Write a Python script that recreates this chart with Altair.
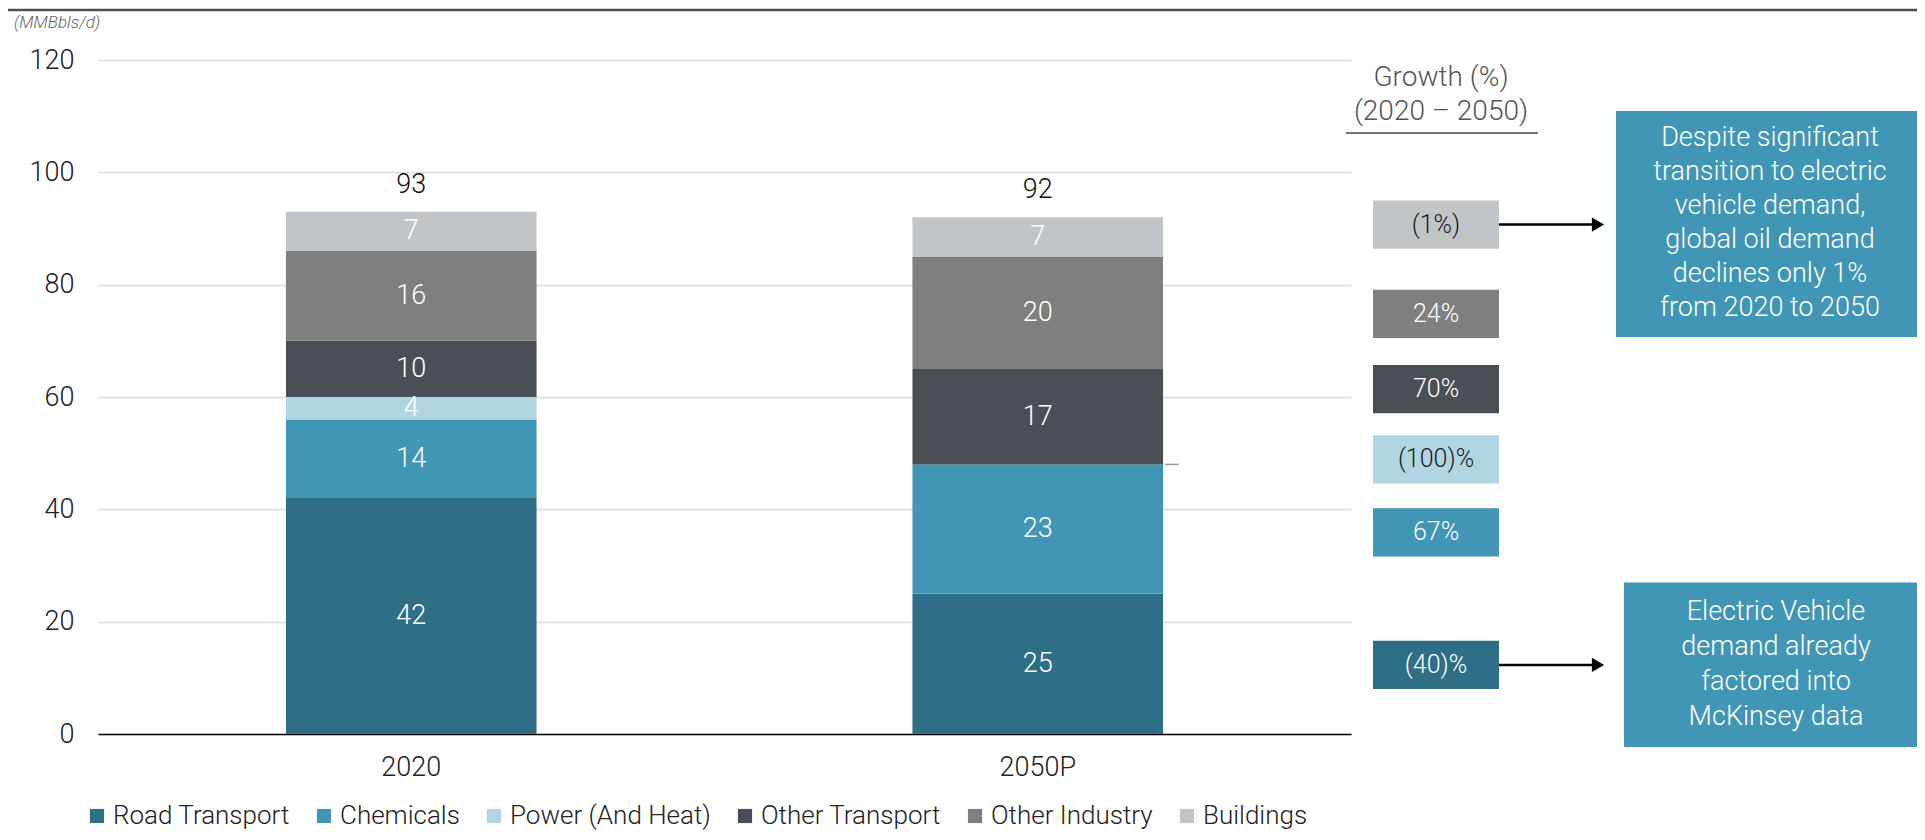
import altair as alt
import pandas as pd

FONT = "Roboto"
FS = 27  # base font size

years = ["2020", "2050P"]
sectors = ["Road Transport", "Chemicals", "Power (And Heat)", "Other Transport", "Other Industry", "Buildings"]
vals_2020 = [42, 14, 4, 10, 16, 7]
vals_2050 = [25, 23, 0, 17, 20, 7]
totals = [93, 92]
colors = ["#2e6f87", "#4196b5", "#b0d6e3", "#4a4f56", "#7f7f7f", "#c1c5c8"]

growth_labels = ["(40)%", "67%", "(100)%", "70%", "24%", "(1%)"]
growth_centers = [12.3, 35.9, 48.9, 61.4, 74.8, 90.7]
growth_text_colors = ["white", "white", "#222222", "white", "white", "#222222"]

note1_lines = ["Despite significant", "transition to electric", "vehicle demand,",
               "global oil demand", "declines only 1%", "from 2020 to 2050"]
note2_lines = ["Electric Vehicle", "demand already", "factored into", "McKinsey data"]

LH = 34  # line height of the note text

# ---- tables ----
rows = []
for yr, vals in zip(years, [vals_2020, vals_2050]):
    base = 0
    for i, (s, v) in enumerate(zip(sectors, vals)):
        rows.append({"year": yr, "sector": s, "value": v, "idx": i,
                     "mid": base + v / 2, "label": str(v) if v > 0 else ""})
        base += v
df = pd.DataFrame(rows)
df_tot = pd.DataFrame({"year": years, "total": totals, "label": [str(t) for t in totals]})

half = 4.3
df_growth = pd.DataFrame({
    "label": growth_labels,
    "c": growth_centers,
    "top": [c + half for c in growth_centers],
    "bot": [c - half for c in growth_centers],
    "fill": colors,
    "tcol": growth_text_colors,
})

y_scale = alt.Scale(domain=[0, 120])
X_PLAIN = alt.X("year:N", sort=years, title=None)

bars = alt.Chart(df).mark_bar().encode(
    x=alt.X("year:N", sort=years, title=None,
            scale=alt.Scale(paddingInner=0.6, paddingOuter=0.3),
            axis=alt.Axis(labelAngle=0, ticks=False, domain=True,
                          domainColor="#000000", domainWidth=1.5, labelFontSize=FS,
                          labelFontWeight=300, labelColor="#222222", labelPadding=20,
                          grid=False)),
    y=alt.Y("value:Q", stack="zero", scale=y_scale, title=None,
            axis=alt.Axis(values=[0, 20, 40, 60, 80, 100, 120], grid=True,
                          gridColor="#dcdcdc", gridWidth=1.5, domain=False, ticks=False,
                          labelPadding=24, labelFontSize=FS, labelFontWeight=300,
                          labelColor="#222222")),
    color=alt.Color("sector:N", scale=alt.Scale(domain=sectors, range=colors),
                    legend=alt.Legend(title=None, orient="none", direction="horizontal",
                                      legendX=-14, legendY=743, symbolType="square",
                                      symbolSize=200, symbolStrokeWidth=0,
                                      labelFontSize=26, labelFontWeight=300,
                                      labelColor="#222222", labelOffset=3, labelLimit=0,
                                      columnPadding=21, columns=6)),
    order=alt.Order("idx:Q", sort="ascending"),
)

seg_labels = alt.Chart(df).transform_filter("datum.value > 0").mark_text(
    color="white", fontSize=FS, fontWeight=300, baseline="middle", font=FONT
).encode(
    x=X_PLAIN,
    y=alt.Y("mid:Q", scale=y_scale, title=None),
    text="label:N",
)

tot_labels = alt.Chart(df_tot).mark_text(
    color="#111111", fontSize=FS, fontWeight=300, baseline="middle", dy=-27, font=FONT
).encode(
    x=X_PLAIN,
    y=alt.Y("total:Q", scale=y_scale, title=None),
    text="label:N",
)

unit_title = alt.Chart(pd.DataFrame({"t": ["(MMBbls/d)"]})).mark_text(
    fontSize=17, fontWeight=300, fontStyle="italic", color="#666666",
    align="left", baseline="middle", font=FONT
).encode(x=alt.value(-84), y=alt.value(-37), text="t:N")

# small connector tick at the right edge of the 2050P bar
tick = alt.Chart(pd.DataFrame({"y": [48]})).mark_rule(color="#9a9a9a", strokeWidth=1.5).encode(
    x=alt.value(1067), x2=alt.value(1081), y=alt.Y("y:Q", scale=y_scale, title=None))

# ---- right-hand annotations ----
growth_boxes = alt.Chart(df_growth).mark_rect().encode(
    x=alt.value(1275), x2=alt.value(1401),
    y=alt.Y("top:Q", scale=y_scale, title=None), y2="bot:Q",
    fill=alt.Fill("fill:N", scale=None),
)
growth_text = alt.Chart(df_growth).mark_text(
    fontSize=25, fontWeight=300, baseline="middle", align="center", font=FONT
).encode(
    x=alt.value(1338),
    y=alt.Y("c:Q", scale=y_scale, title=None),
    text="label:N",
    color=alt.Color("tcol:N", scale=None),
)

hdr = pd.DataFrame({"t": ["Growth (%)", "(2020 \u2013 2050)"], "y": [116.8, 110.7]})
header = alt.Chart(hdr).mark_text(
    fontSize=28, fontWeight=300, color="#555555", align="center", baseline="middle", font=FONT
).encode(x=alt.value(1343), y=alt.Y("y:Q", scale=y_scale, title=None), text="t:N")
underline = alt.Chart(pd.DataFrame({"y": [107.0]})).mark_rule(color="#444444", strokeWidth=1.5).encode(
    x=alt.value(1248), x2=alt.value(1440), y=alt.Y("y:Q", scale=y_scale, title=None))

arrow_y = pd.DataFrame({"y": [90.7, 12.3]})
arrow_lines = alt.Chart(arrow_y).mark_rule(color="#000000", strokeWidth=2.5).encode(
    x=alt.value(1401), x2=alt.value(1496), y=alt.Y("y:Q", scale=y_scale, title=None))
arrow_heads = alt.Chart(arrow_y).mark_point(
    shape="triangle-right", filled=True, size=200, color="#000000", opacity=1
).encode(x=alt.value(1500), y=alt.Y("y:Q", scale=y_scale, title=None))

notes = pd.DataFrame({
    "top": [110.9, 26.96], "bot": [70.7, -2.3], "c": [90.9, 12.4],
    "t": ["\n".join(note1_lines), "\n".join(note2_lines)],
})
note_box1 = alt.Chart(notes.iloc[[0]]).mark_rect(color="#4196b5").encode(
    x=alt.value(1518), x2=alt.value(1819),
    y=alt.Y("top:Q", scale=y_scale, title=None), y2="bot:Q")
note_box2 = alt.Chart(notes.iloc[[1]]).mark_rect(color="#4196b5").encode(
    x=alt.value(1526), x2=alt.value(1819),
    y=alt.Y("top:Q", scale=y_scale, title=None), y2="bot:Q")
note_txt1 = alt.Chart(notes.iloc[[0]]).mark_text(
    color="white", fontSize=FS, fontWeight=300, lineBreak="\n", lineHeight=LH,
    align="center", baseline="middle", dy=-(len(note1_lines) - 1) / 2 * LH, font=FONT
).encode(x=alt.value(1672), y=alt.Y("c:Q", scale=y_scale, title=None), text="t:N")
note_txt2 = alt.Chart(notes.iloc[[1]]).mark_text(
    color="white", fontSize=FS, fontWeight=300, lineBreak="\n", lineHeight=35,
    align="center", baseline="middle", dy=-(len(note2_lines) - 1) / 2 * 35, font=FONT
).encode(x=alt.value(1678), y=alt.Y("c:Q", scale=y_scale, title=None), text="t:N")

top_rule = alt.Chart(pd.DataFrame({"k": [0]})).mark_rule(color="#4a4f56", strokeWidth=2.5).encode(
    x=alt.value(-90), x2=alt.value(1819), y=alt.value(-50))

chart = alt.layer(
    bars, seg_labels, tot_labels, unit_title, tick, growth_boxes, growth_text, header, underline,
    arrow_lines, arrow_heads, note_box1, note_box2, note_txt1, note_txt2, top_rule,
).properties(
    width=1253, height=674,
    padding={"left": 90, "top": 52, "right": 566, "bottom": 98},
    autosize=alt.AutoSizeParams(type="none"),
).configure(font=FONT).configure_view(stroke=None)

chart.save("out.html", embed_options={"renderer": "svg", "actions": False})
